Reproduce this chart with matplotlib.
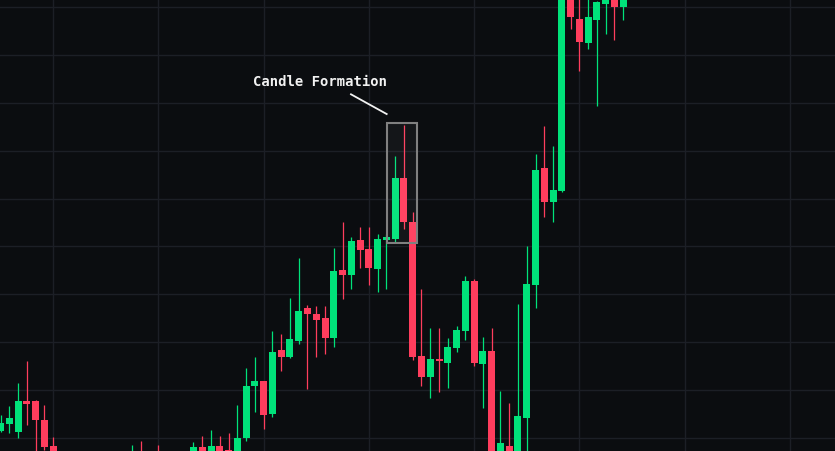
import matplotlib
matplotlib.use('agg')
import matplotlib.pyplot as plt
from matplotlib.patches import Rectangle

# candle data (price units, gridlines every 10)
opens = [101.52, 102.99, 101.32, 107.73, 107.73, 103.76, 98.33, 95.8, 94.2, 93.0,
         94.1, 92.8, 93.6, 95.0, 93.8, 95.3, 96.6, 95.1, 96.0, 94.7,
         95.8, 96.3, 95.6, 98.12, 96.5, 98.33, 97.49, 96.6, 100.06, 110.86,
         111.90, 105.01, 118.37, 116.91, 120.25, 127.14, 125.89, 125.06, 120.88, 135.08,
         134.03, 141.34, 139.46, 135.29, 141.34, 141.55, 154.29, 145.10, 117.12, 112.74,
         116.50, 115.66, 118.79, 122.34, 132.78, 115.45, 118.17, 94.0, 98.33, 95.2,
         104.18, 132.01, 156.38, 149.34, 151.64, 196.5, 187.49, 182.48, 187.28, 190.62,
         193.2, 190.0]
highs = [104.80, 106.68, 111.48, 116.08, 107.93, 106.89, 100.21, 96.9, 95.5, 94.8,
         95.2, 94.0, 95.8, 96.2, 96.0, 98.54, 99.37, 96.5, 98.54, 96.2,
         97.0, 97.1, 99.16, 100.42, 101.67, 100.42, 101.04, 106.89, 114.62, 116.91,
         112.0, 122.34, 121.72, 129.23, 137.58, 127.77, 127.56, 127.56, 139.67, 145.10,
         141.97, 144.06, 144.06, 142.60, 142.60, 158.88, 165.36, 147.19, 131.11, 122.97,
         122.97, 120.88, 123.39, 133.83, 133.20, 121.09, 122.97, 109.81, 107.31, 127.98,
         140.09, 159.30, 165.15, 160.97, 199.0, 198.5, 193.0, 192.5, 191.3, 194.0,
         194.5, 193.5]
lows = [101.32, 101.11, 100.06, 102.78, 93.32, 97.6, 95.0, 93.5, 92.0, 91.2,
        92.3, 90.9, 92.7, 93.1, 93.2, 94.6, 94.4, 93.9, 94.0, 93.6,
        94.9, 95.0, 95.2, 96.0, 96.1, 96.3, 96.0, 96.2, 99.44, 105.43,
        101.88, 104.38, 113.99, 116.8, 119.63, 110.23, 116.91, 117.54, 119.0, 129.02,
        131.11, 135.50, 131.95, 130.49, 131.11, 140.93, 143.64, 116.29, 110.86, 108.35,
        109.60, 110.44, 117.96, 120.46, 115.03, 106.26, 91.5, 92.5, 94.2, 94.0,
        96.0, 127.21, 146.21, 145.16, 151.43, 185.40, 176.63, 181.23, 169.32, 184.36,
        183.10, 187.28]
closes = [103.13, 104.18, 107.73, 107.16, 103.82, 98.18, 95.8, 94.2, 93.0, 94.1,
          92.8, 93.6, 95.0, 93.8, 95.3, 96.6, 95.1, 96.0, 94.7, 95.8,
          96.3, 95.6, 98.12, 96.5, 98.33, 96.9, 96.6, 100.0, 110.86, 111.90,
          104.80, 117.96, 116.91, 120.67, 126.52, 125.89, 124.64, 120.88, 134.87, 134.03,
          141.13, 139.25, 135.50, 141.55, 141.97, 154.29, 145.10, 116.91, 112.74, 116.50,
          116.08, 119.0, 122.55, 132.78, 115.66, 118.17, 93.32, 98.96, 95.5, 104.59,
          132.16, 155.96, 149.34, 151.78, 197.7, 187.97, 182.69, 187.91, 191.04, 193.0,
          190.0, 192.8]

label = 'Candle Formation'

bg = '#0b0d10'
grid_c = '#1c1f26'
up_c = '#00e27a'
down_c = '#ff3d5d'

fig = plt.figure(figsize=(8.35, 4.51), dpi=100, facecolor=bg)
ax = fig.add_axes([0, 0, 1, 1])
ax.set_facecolor(bg)

x = list(range(len(opens)))
cols = [up_c if c >= o else down_c for o, c in zip(opens, closes)]
bottoms = [min(o, c) for o, c in zip(opens, closes)]
heights = [max(abs(c - o), 0.15) for o, c in zip(opens, closes)]

ax.vlines(x, lows, highs, colors=cols, linewidth=0.9, zorder=2)
ax.bar(x, heights, bottom=bottoms, width=0.8, color=cols, linewidth=0, zorder=3)

ax.set_xlim(-0.06, 95.15)
ax.set_ylim(97.29, 191.46)
ax.set_xticks(range(6, 95, 12))
ax.set_yticks(range(100, 191, 10))
ax.grid(True, color=grid_c, linewidth=1.0, zorder=0)
ax.tick_params(length=0, labelbottom=False, labelleft=False)
for s in ax.spines.values():
    s.set_visible(False)

# annotation box around the two candles
ax.add_patch(Rectangle((44.03, 140.72), 3.49, 24.99, facecolor=(1, 1, 1, 0.04),
                       edgecolor='#808080', linewidth=1.5, zorder=4))
ax.plot([39.96, 44.03], [171.77, 167.65], color='#f2f2f2', linewidth=1.3, zorder=5)
ax.text(36.43, 174.3, label, color='#f2f2f2', fontsize=10, fontweight='bold',
        family='DejaVu Sans Mono', ha='center', va='center', zorder=5)

plt.savefig('out.png', dpi=100, facecolor=bg)
